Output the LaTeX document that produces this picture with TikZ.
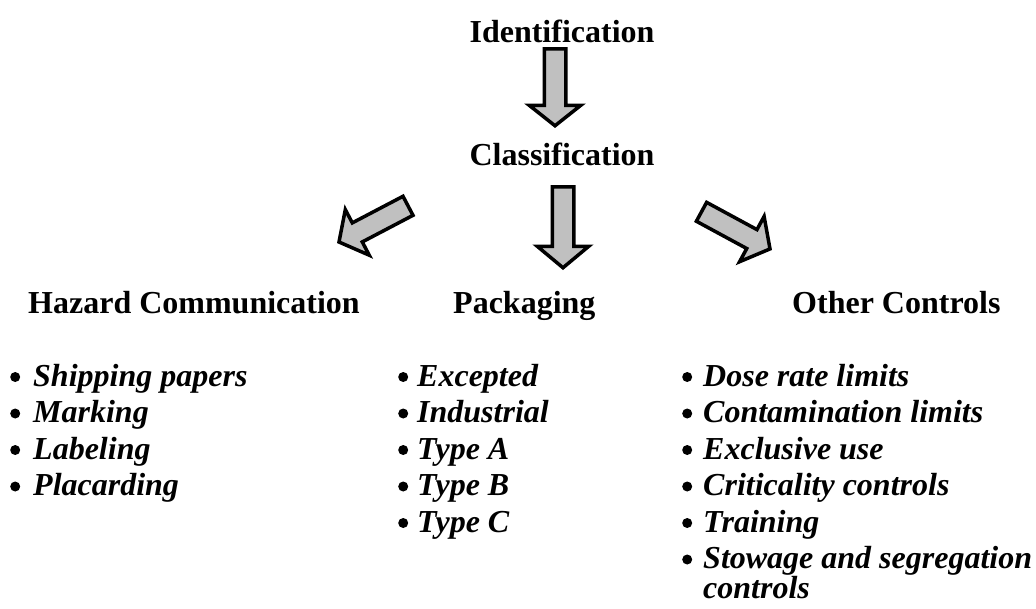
\documentclass[tikz,border=0pt]{standalone}
\usepackage{fontspec}
\setmainfont{Liberation Serif}
\usetikzlibrary{calc}
\definecolor{arrowgray}{RGB}{192,192,192}
\tikzset{
  head/.style={font=\fontsize{32}{36.5}\selectfont\bfseries, inner sep=0pt, anchor=base west},
  title/.style={font=\fontsize{32}{36.5}\selectfont\bfseries, inner sep=0pt, anchor=base},
  itemlist/.style={font=\fontsize{32}{36.5}\selectfont, inner sep=0pt, anchor=base west},
  fat/.style={draw=black, line width=3.5pt, fill=arrowgray, line join=miter, miter limit=10}
}
\newcommand{\fatarrow}[2]{%
  \path[fat] ($(#1)!10.75pt!90:(#2)$)
    -- ($($(#1)!0.735!(#2)$)!10.75pt!90:(#2)$)
    -- ($($(#1)!0.735!(#2)$)!25.75pt!90:(#2)$)
    -- (#2)
    -- ($($(#1)!0.735!(#2)$)!25.75pt!-90:(#2)$)
    -- ($($(#1)!0.735!(#2)$)!10.75pt!-90:(#2)$)
    -- ($(#1)!10.75pt!-90:(#2)$) -- cycle;}
\newcommand{\bl}{\tikz[baseline=0pt]{\path (0pt,0pt); \fill[black] (5pt,9pt) circle[radius=5pt];}}
\begin{document}
\begin{tikzpicture}[x=1pt,y=-1pt]
\useasboundingbox (0,0) rectangle (1036,608);
\node[title] (ident) at (562,42) {Identification};
\node[title] (class) at (562,165) {Classification};
\node[head] (haz) at (28,313) {Hazard Communication};
\node[head] (pack) at (453,313) {Packaging};
\node[head] (oth) at (792,313) {Other Controls};

\coordinate (a1t) at (555,48.75);
\coordinate (a1p) at (555,125.75);
\coordinate (a2t) at (563,186.75);
\coordinate (a2p) at (563,267.75);
\coordinate (a3t) at (408,205.8);
\coordinate (a3p) at (339,242);
\coordinate (a4t) at (701.5,211.8);
\coordinate (a4p) at (770,248.9);
\fatarrow{a1t}{a1p}
\fatarrow{a2t}{a2p}
\fatarrow{a3t}{a3p}
\fatarrow{a4t}{a4p}

\node[itemlist] (hazlist) at (10,386) {\begin{tabular}[t]{@{}l@{\hspace{13pt}}l@{}}
\bl & \textbf{\textit{Shipping papers}}\\
\bl & \textbf{\textit{Marking}}\\
\bl & \textbf{\textit{Labeling}}\\
\bl & \textbf{\textit{Placarding}}
\end{tabular}};
\node[itemlist] (packlist) at (398,386) {\begin{tabular}[t]{@{}l@{\hspace{9pt}}l@{}}
\bl & \textbf{\textit{Excepted}}\\
\bl & \textbf{\textit{Industrial}}\\
\bl & \textbf{\textit{Type A}}\\
\bl & \textbf{\textit{Type B}}\\
\bl & \textbf{\textit{Type C}}
\end{tabular}};
\node[itemlist] (othlist) at (682,386) {\begin{tabular}[t]{@{}l@{\hspace{11pt}}l@{}}
\bl & \textbf{\textit{Dose rate limits}}\\
\bl & \textbf{\textit{Contamination limits}}\\
\bl & \textbf{\textit{Exclusive use}}\\
\bl & \textbf{\textit{Criticality controls}}\\
\bl & \textbf{\textit{Training}}\\
\bl & \textbf{\textit{Stowage and segregation}}\\[-6.5pt]
 & \textbf{\textit{controls}}
\end{tabular}};
\end{tikzpicture}
\end{document}
